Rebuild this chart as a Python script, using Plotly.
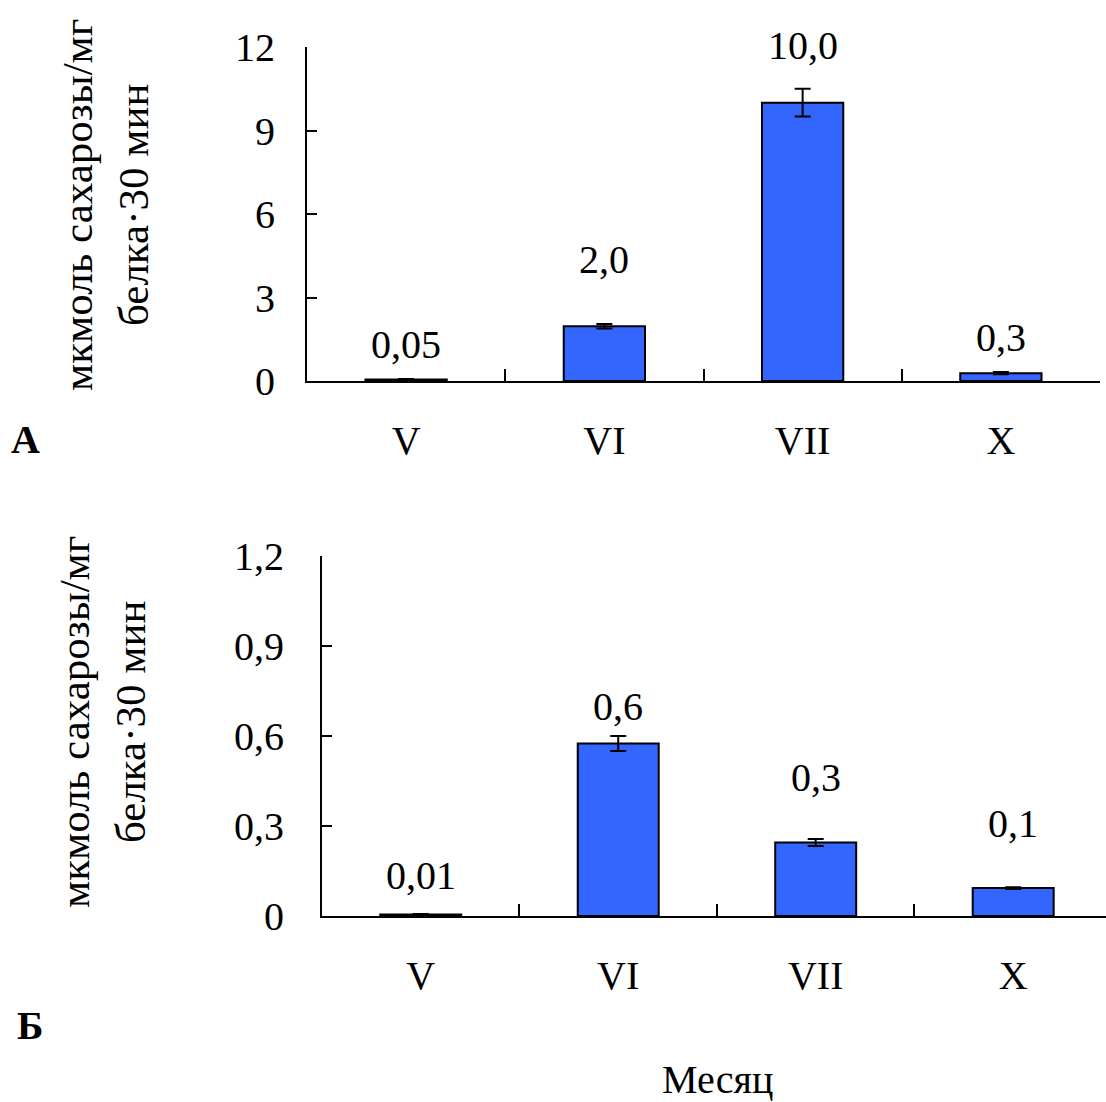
import plotly.graph_objects as go

months = ["V", "VI", "VII", "X"]

# Panel A
a_values = [0.05, 1.97, 10.0, 0.28]
a_errors = [0.02, 0.08, 0.5, 0.04]
a_labels = ["0,05", "2,0", "10,0", "0,3"]
a_ticks = [0, 3, 6, 9, 12]
a_ticktext = ["0", "3", "6", "9", "12"]

# Panel Б
b_values = [0.005, 0.575, 0.245, 0.093]
b_errors = [0.002, 0.025, 0.012, 0.003]
b_labels = ["0,01", "0,6", "0,3", "0,1"]
b_ticks = [0, 0.3, 0.6, 0.9, 1.2]
b_ticktext = ["0", "0,3", "0,6", "0,9", "1,2"]

FONT = "Liberation Serif"
BLUE = "#3366FF"
FS = 40

fig = go.Figure()

fig.add_trace(go.Bar(
    x=months, y=a_values, xaxis="x", yaxis="y",
    marker=dict(color=BLUE, line=dict(color="black", width=2)),
    width=0.41,
    error_y=dict(type="data", array=a_errors, color="black", thickness=2, width=8),
    showlegend=False,
))
fig.add_trace(go.Bar(
    x=months, y=b_values, xaxis="x2", yaxis="y2",
    marker=dict(color=BLUE, line=dict(color="black", width=2)),
    width=0.41,
    error_y=dict(type="data", array=b_errors, color="black", thickness=2, width=8),
    showlegend=False,
))

a_shift = [35, 67, 57, 36]
b_shift = [39, 37, 65, 65]

annotations = []
for m, v, t, s in zip(months, a_values, a_labels, a_shift):
    annotations.append(dict(x=m, y=v, xref="x", yref="y", text=t, showarrow=False,
                            yshift=s, yanchor="middle", font=dict(family=FONT, size=FS, color="black")))
for m, v, t, s in zip(months, b_values, b_labels, b_shift):
    annotations.append(dict(x=m, y=v, xref="x2", yref="y2", text=t, showarrow=False,
                            yshift=s, yanchor="middle", font=dict(family=FONT, size=FS, color="black")))

ytitle = "мкмоль сахарозы/мг<br>белка·30 мин"
annotations += [
    dict(x=105 / 1106, y=1 - 205 / 1102, xref="paper", yref="paper", text=ytitle, showarrow=False,
         textangle=-90, xanchor="center", yanchor="middle",
         font=dict(family=FONT, size=43, color="black")),
    dict(x=102 / 1106, y=1 - 722 / 1102, xref="paper", yref="paper", text=ytitle, showarrow=False,
         textangle=-90, xanchor="center", yanchor="middle",
         font=dict(family=FONT, size=43, color="black")),
    dict(x=25 / 1106, y=1 - 440 / 1102, xref="paper", yref="paper", text="<b>А</b>", showarrow=False,
         xanchor="center", yanchor="middle", font=dict(family=FONT, size=FS, color="black")),
    dict(x=30 / 1106, y=1 - 1025 / 1102, xref="paper", yref="paper", text="<b>Б</b>", showarrow=False,
         xanchor="center", yanchor="middle", font=dict(family=FONT, size=FS, color="black")),
    dict(x=717 / 1106, y=1 - 1079 / 1102, xref="paper", yref="paper", text="Месяц", showarrow=False,
         xanchor="center", yanchor="middle", font=dict(family=FONT, size=FS, color="black")),
]

xcommon = dict(type="category", showline=True, linecolor="black", linewidth=2,
               ticks="inside", tickson="boundaries", ticklen=12, tickwidth=2, tickcolor="black",
               showgrid=False, zeroline=False, ticklabelstandoff=23, automargin=False,
               tickfont=dict(family=FONT, size=FS, color="black"))
ycommon = dict(showline=True, linecolor="black", linewidth=2, ticks="inside", ticklen=10,
               tickwidth=2, tickcolor="black", showgrid=False, zeroline=False, automargin=False,
               tickfont=dict(family=FONT, size=FS, color="black"))

fig.update_layout(
    width=1106, height=1102,
    margin=dict(l=0, r=0, t=0, b=0, autoexpand=False),
    paper_bgcolor="white", plot_bgcolor="white",
    xaxis=dict(**xcommon, domain=[307 / 1106, 1100 / 1106], anchor="y", range=[-0.5, 3.5]),
    yaxis=dict(**ycommon, domain=[1 - 381 / 1102, 1 - 47 / 1102], anchor="x", range=[0, 12],
               tickvals=a_ticks, ticktext=a_ticktext, ticklabelstandoff=22),
    xaxis2=dict(**xcommon, domain=[322 / 1106, 1.0], anchor="y2", range=[-0.5, 3.47]),
    yaxis2=dict(**ycommon, domain=[1 - 916 / 1102, 1 - 556 / 1102], anchor="x2", range=[0, 1.2],
                tickvals=b_ticks, ticktext=b_ticktext, ticklabelstandoff=28),
    annotations=annotations,
)

fig.write_html("out.html")
